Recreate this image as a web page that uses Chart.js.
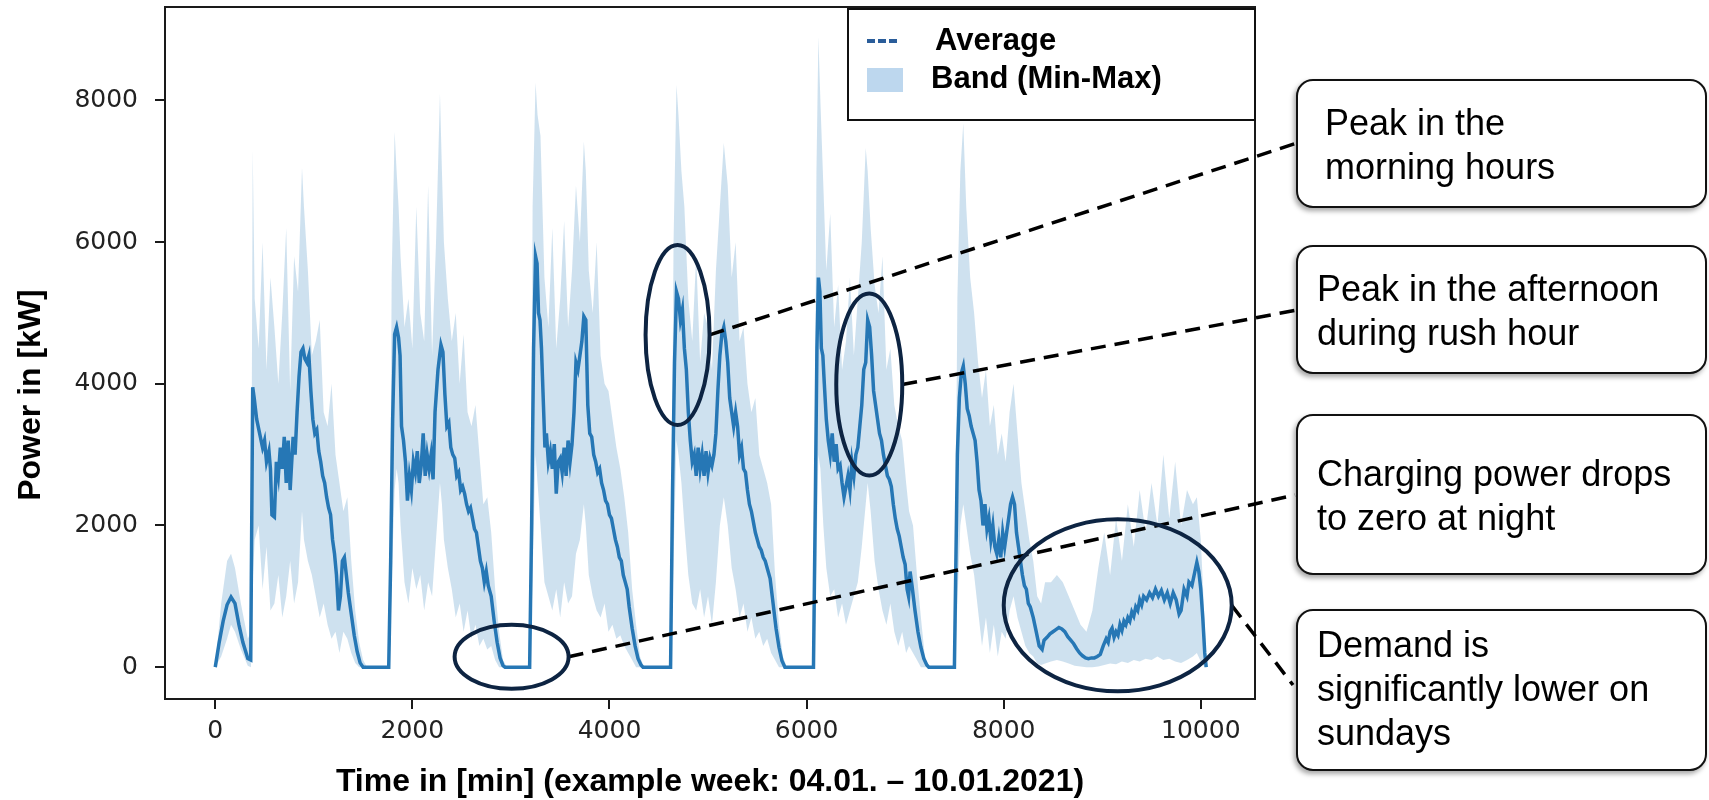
<!DOCTYPE html>
<html>
<head>
<meta charset="utf-8">
<title>Charging power, example week</title>
<script src="https://cdn.jsdelivr.net/npm/chart.js@4.4.1/dist/chart.umd.min.js"></script>
<style>
  html, body { margin: 0; padding: 0; background: #fff; overflow: hidden; }
  #wrap { position: relative; width: 1709px; height: 800px; }
  #chart { position: absolute; left: 0; top: 0; }
  .note {
    position: absolute;
    left: 1296px;
    width: 411px;
    box-sizing: border-box;
    border: 2px solid #111;
    border-radius: 17px;
    background: #fff;
    box-shadow: -2px 3px 5px rgba(0, 0, 0, 0.35);
    font-family: 'Liberation Sans', Arial, sans-serif;
    font-size: 36px;
    line-height: 44px;
    color: #000;
    white-space: nowrap;
  }
</style>
</head>
<body>
<div id="wrap">
  <canvas id="chart"></canvas>
  <div class="note" style="top:79px;height:129px;padding:20px 0 0 27px;">Peak in the<br>morning hours</div>
  <div class="note" style="top:245px;height:129px;padding:20px 0 0 19px;">Peak in the afternoon<br>during rush hour</div>
  <div class="note" style="top:414px;height:161px;padding:36px 0 0 19px;">Charging power drops<br>to zero at night</div>
  <div class="note" style="top:609px;height:162px;padding:12px 0 0 19px;">Demand is<br>significantly lower on<br>sundays</div>
</div>
<script>
// values (time in minutes, power in kW)
const avgTime = [
  0, 40, 80, 120, 160, 200, 240, 280, 330, 360, 380, 395, 420, 450, 480, 500, 520, 545, 560, 575, 600,
  620, 640, 660, 680, 700, 720, 740, 760, 790, 810, 830, 850, 870, 890, 910, 930, 950, 970, 990,
  1010, 1030, 1050, 1070, 1090, 1110, 1130, 1150, 1170, 1190, 1210, 1230, 1250, 1270, 1290, 1310, 1330, 1350, 1380, 1410,
  1440, 1470, 1500,
  1760, 1780, 1800, 1820, 1840, 1860, 1875, 1890, 1910, 1930, 1950, 1970, 1990, 2010, 2030, 2050, 2070, 2090, 2110, 2130,
  2150, 2170, 2190, 2210, 2230, 2260, 2290, 2310, 2330, 2350, 2370, 2390, 2410, 2430, 2450, 2470, 2490, 2510, 2530, 2550,
  2570, 2590, 2610, 2630, 2650, 2670, 2690, 2710, 2730, 2750, 2770, 2800, 2830, 2860, 2890, 2920, 2940,
  3190, 3210, 3230, 3250, 3265, 3280, 3295, 3310, 3330, 3345, 3360, 3380, 3400, 3420, 3440, 3460, 3480, 3500, 3520, 3540,
  3560, 3580, 3600, 3620, 3640, 3660, 3680, 3700, 3720, 3740, 3760, 3780, 3800, 3820, 3840, 3860, 3880, 3900, 3920, 3940,
  3960, 3980, 4000, 4020, 4040, 4060, 4080, 4100, 4120, 4140, 4160, 4180, 4200, 4230, 4260, 4290, 4320, 4340,
  4620, 4640, 4660, 4680, 4700, 4720, 4740, 4760, 4780, 4800, 4820, 4840, 4860, 4880, 4900, 4920, 4940, 4960, 4980, 5000,
  5020, 5040, 5060, 5080, 5100, 5120, 5140, 5160, 5180, 5200, 5220, 5240, 5260, 5280, 5300, 5320, 5340, 5360, 5380, 5400,
  5420, 5440, 5460, 5480, 5500, 5520, 5540, 5560, 5580, 5600, 5630, 5660, 5690, 5720, 5750, 5780,
  6070, 6090, 6105, 6120, 6135, 6150, 6165, 6180, 6200, 6220, 6240, 6260, 6280, 6300, 6320, 6340, 6360, 6380, 6400, 6420,
  6440, 6460, 6480, 6500, 6520, 6540, 6560, 6580, 6600, 6620, 6640, 6660, 6680, 6700, 6720, 6740, 6760, 6780, 6800, 6820,
  6840, 6860, 6880, 6900, 6920, 6940, 6960, 6980, 7000, 7020, 7035, 7050, 7070, 7100, 7130, 7160, 7190, 7220, 7240,
  7500, 7515, 7530, 7550, 7570, 7590, 7610, 7630, 7650, 7670, 7690, 7710, 7730, 7750, 7770, 7790, 7810, 7830, 7850, 7870,
  7890, 7910, 7930, 7950, 7970, 7990, 8010, 8030, 8050, 8070, 8090, 8110, 8130, 8150, 8170, 8190, 8210, 8230, 8250, 8270,
  8300, 8330, 8360, 8390, 8410, 8440, 8470, 8500, 8530, 8560, 8590, 8620, 8650, 8680, 8710, 8740, 8770, 8800, 8830, 8860,
  8890, 8920, 8950, 8980, 9010, 9040, 9060, 9080, 9100, 9120, 9140, 9160, 9180, 9200, 9220, 9240, 9260, 9280, 9300, 9320,
  9340, 9360, 9380, 9400, 9420, 9450, 9480, 9510, 9540, 9570, 9600, 9630, 9660, 9690, 9720, 9750, 9780, 9800, 9830, 9860,
  9880, 9910, 9940, 9960, 9980, 10000, 10020, 10040, 10055
];
const avgPower = [
  0, 350, 650, 880, 990, 900, 600, 350, 120, 100, 3950, 3800, 3500, 3300, 3100, 3200, 2900, 3050, 2800, 2150, 2120,
  2900, 2700, 3100, 2800, 3250, 2600, 3200, 2500, 3250, 3000, 3600, 4100, 4450, 4500, 4350, 4300, 4400, 3900, 3500,
  3300, 3350, 3050, 2900, 2700, 2600, 2400, 2250, 2150, 1800, 1600, 1300, 800, 1000, 1500, 1550, 1300, 1050, 750, 450,
  220, 60, 0,
  0, 1500, 3500, 4700, 4800, 4650, 4400, 3400, 3200, 2900, 2350, 2700, 2500, 2900, 2750, 3050, 2600, 2850, 3300, 2700,
  3000, 2800, 3000, 2650, 3600, 4200, 4550, 4450, 3850, 3400, 3450, 3100, 3000, 2950, 2700, 2750, 2500, 2550, 2450, 2300,
  2200, 2250, 2100, 1950, 1900, 1700, 1500, 1400, 1200, 1350, 1150, 1000, 650, 350, 130, 20, 0,
  0, 2000, 4500, 5800, 5700, 5000, 4900, 4500, 3700, 3100, 3300, 2900, 3050, 2800, 3150, 2450, 2900, 2950, 2750, 3100,
  2700, 3200, 2900, 3150, 3600, 4300, 4200, 4400, 4600, 4950, 4900, 3700, 3300, 3250, 3000, 2900, 2750, 2800, 2600, 2500,
  2350, 2300, 2150, 2100, 1950, 1800, 1700, 1550, 1500, 1300, 1200, 1100, 850, 550, 300, 120, 30, 0,
  0, 2500, 4300, 5300, 5200, 4900, 5050, 4500, 4200, 3600, 3200, 2900, 3000, 2700, 3100, 2800, 3000, 2700, 3050, 2750,
  2950, 2850, 3000, 3300, 3900, 4400, 4700, 4800, 4600, 4300, 3800, 3600, 3400, 3600, 3400, 3000, 3100, 2800, 2750, 2500,
  2300, 2200, 2050, 1900, 1800, 1700, 1650, 1550, 1500, 1400, 1250, 900, 550, 280, 90, 0,
  0, 2500, 4500, 5500, 5300, 4500, 4400, 4000, 3500, 3200, 3000, 3300, 2900, 3150, 2800, 2850, 2600, 2400, 2550, 2700,
  2500, 2900, 2700, 3000, 3100, 3400, 3700, 4200, 4300, 4900, 4800, 4400, 3900, 3700, 3500, 3300, 3200, 3000, 2850, 2700,
  2650, 2550, 2300, 2100, 1950, 1850, 1700, 1550, 1450, 1100, 1000, 1350, 1150, 800, 500, 280, 120, 30, 0,
  0, 1500, 3000, 3800, 4150, 4250, 4000, 3650, 3550, 3400, 3300, 3200, 2900, 2500, 2350, 2000, 2300, 1950, 2100, 1800,
  2000, 1700, 1600, 1800, 1550, 1900, 1700, 1900, 2100, 2300, 2400, 2300, 1900, 1700, 1500, 1300, 1150, 1100, 900, 850,
  700, 500, 300, 250, 380, 420, 470, 500, 530, 560, 540, 500, 430, 380, 330, 260, 200, 160, 130, 120,
  130, 130, 150, 180, 300, 400, 350, 500, 550, 420, 500, 450, 600, 520, 650, 600, 700, 650, 780, 720,
  850, 800, 950, 880, 1000, 950, 1050, 980, 1100, 1000, 1080, 950, 1050, 900, 1050, 950, 750, 800, 1100, 1000,
  1200, 1150, 1350, 1480, 1350, 1100, 700, 200, 0
];

const bandTime = [
  0, 60, 120, 160, 200, 260, 330, 362, 380, 400, 440, 480, 520, 560, 600, 640, 680, 720, 760, 800,
  840, 880, 900, 940, 980, 1020, 1060, 1100, 1140, 1180, 1220, 1260, 1300, 1340, 1380, 1420, 1460, 1500, 1540,
  1760, 1775, 1790, 1820, 1840, 1860, 1880, 1920, 1960, 2000, 2040, 2080, 2120, 2160, 2200, 2240, 2280, 2300,
  2320, 2360, 2400, 2440, 2480, 2520, 2560, 2600, 2640, 2680, 2720, 2760, 2800, 2840, 2880, 2920, 2960,
  3190, 3205, 3220, 3250, 3270, 3300, 3340, 3380, 3420, 3460, 3500, 3540, 3580, 3620, 3660, 3700, 3740,
  3760, 3790, 3830, 3870, 3910, 3950, 3990, 4030, 4070, 4110, 4150, 4190, 4230, 4270, 4310, 4350,
  4620, 4635, 4650, 4680, 4700, 4730, 4760, 4800, 4840, 4880, 4920, 4960, 5000, 5040, 5080, 5120, 5160,
  5200, 5240, 5280, 5320, 5360, 5400, 5440, 5480, 5520, 5560, 5600, 5640, 5680, 5720, 5760, 5800,
  6070, 6085, 6100, 6120, 6140, 6170, 6200, 6240, 6280, 6320, 6360, 6400, 6440, 6480, 6520, 6560, 6600,
  6620, 6650, 6690, 6730, 6770, 6810, 6850, 6890, 6930, 6970, 7010, 7040, 7080, 7120, 7160, 7200, 7240,
  7500, 7515, 7530, 7560, 7590, 7620, 7660, 7700, 7740, 7780, 7820, 7860, 7900, 7940, 7980, 8020, 8060, 8100,
  8140, 8180, 8220, 8260, 8300, 8340, 8380, 8420, 8480, 8540, 8600, 8660, 8720, 8780, 8840, 8900, 8960,
  9020, 9080, 9140, 9200, 9260, 9320, 9380, 9440, 9500, 9560, 9620, 9680, 9740, 9800, 9860, 9920, 9960,
  10000, 10040, 10060
];
const bandMax = [
  0, 900, 1500, 1600, 1400, 900, 400, 500, 7300, 5200, 4500, 6000, 4200, 5500, 4800, 4000, 5000, 6200, 3900, 5800,
  5300, 7050, 6500, 5600, 4400, 4600, 4900, 3600, 3400, 4000, 3000, 2600, 2200, 2400, 1500, 800, 350, 100, 0,
  0, 2000, 5500, 7560, 7000, 6500, 5800, 4800, 5200, 4500, 6500, 5000, 4600, 6800, 4400, 6000, 8100, 7000,
  6000, 5200, 4600, 5000, 4000, 4700, 3600, 3400, 3700, 3000, 2300, 2400, 1900, 1100, 500, 100, 0,
  0, 2500, 6500, 8250, 7800, 7500, 5500, 4800, 6200, 4500, 5200, 6300, 4800, 5600, 6800, 6000, 7420,
  7000, 5600, 5000, 6000, 4400, 4000, 3900, 3500, 3100, 2800, 2400, 1900, 1100, 600, 150, 0,
  0, 3000, 6000, 8220, 7800, 7000, 6500, 5200, 4600, 5800, 4300, 5000, 4800, 4200, 5600, 6500, 7400,
  6800, 5500, 6000, 4600, 4800, 4000, 3600, 3800, 3000, 2800, 2600, 2300, 1300, 600, 150, 0,
  0, 3500, 7000, 8900, 8000, 6800, 5600, 6400, 4800, 5400, 4200, 4600, 5500, 4400, 5200, 6000, 7330,
  7000, 6200, 5400, 5000, 5800, 4200, 4500, 3700, 3400, 3200, 2600, 2200, 2000, 1300, 700, 150, 0,
  0, 2500, 5200, 7000, 7680, 6500, 5500, 5000, 4300, 3800, 4200, 3400, 3700, 3000, 3300, 2900, 3600, 4000,
  3300, 2600, 2200, 1800, 1500, 1000, 900, 1200, 1200, 1300, 1200, 1000, 800, 600, 500, 800, 1400,
  1900, 1300, 2100, 1500, 2300, 1700, 2500, 1900, 2600, 2000, 3000, 2100, 2900, 2000, 2500, 2300, 2400,
  1800, 600, 0
];
const bandMin = [
  0, 150, 400, 600, 500, 250, 20, 0, 1200, 1800, 2000, 1100, 1700, 800, 900, 1300, 700, 1000, 1500, 900,
  1200, 2200, 1800, 1500, 1300, 1000, 700, 900, 600, 400, 500, 200, 500, 400, 200, 60, 0, 0, 0,
  0, 300, 1200, 2500, 2800, 2600, 2000, 1200, 900, 1400, 1100, 1300, 800, 1200, 1000, 1800, 2600, 2300,
  1800, 1400, 1100, 700, 900, 500, 800, 400, 600, 300, 400, 250, 300, 100, 0, 0, 0,
  0, 400, 1300, 3000, 2600, 2000, 1200, 1000, 800, 1100, 700, 1200, 900, 1000, 1600, 1800, 2300,
  2000, 1300, 1000, 800, 700, 900, 500, 600, 400, 450, 300, 200, 100, 0, 0, 0,
  0, 600, 1500, 3200, 3000, 2600, 2000, 1300, 900, 800, 1100, 700, 1000, 600, 1200, 2000, 2400,
  2000, 1400, 1100, 700, 900, 500, 700, 400, 500, 300, 400, 200, 100, 0, 0, 0,
  0, 500, 1500, 3000, 2800, 2000, 1400, 1000, 1100, 700, 900, 600, 800, 1000, 1200, 1700, 2300,
  2600, 2200, 1500, 1100, 800, 600, 900, 500, 300, 500, 200, 300, 200, 100, 0, 0, 0,
  0, 300, 900, 2000, 2300, 2000, 1600, 1300, 800, 300, 700, 200, 600, 150, 500, 400, 800, 1000,
  700, 500, 300, 200, 150, 50, 30, 50, 80, 100, 80, 50, 20, 10, 0, 0, 10,
  30, 50, 40, 80, 60, 100, 80, 120, 100, 150, 100, 120, 80, 60, 100, 150, 200,
  80, 0, 0
];

const xTicks = [0, 2000, 4000, 6000, 8000, 10000];
const yTicks = [0, 2000, 4000, 6000, 8000];

if (avgTime.length !== avgPower.length) console.warn('avg arrays differ', avgTime.length, avgPower.length);
if (bandTime.length !== bandMax.length || bandTime.length !== bandMin.length) {
  console.warn('band arrays differ', bandTime.length, bandMax.length, bandMin.length);
}

// callouts: ellipse centre in data units, radii in px, connector end on the note box
const callouts = [
  { t: 4691, v: 4690, rx: 32, ry: 90, to: [1297, 143] },
  { t: 6636, v: 3990, rx: 33, ry: 91, to: [1297, 310] },
  { t: 3007, v: 146, rx: 57, ry: 32, to: [1295, 495] },
  { t: 9157, v: 872, rx: 114, ry: 86, to: [1293, 685] }
];

const toPoints = (xs, ys) => xs.map((x, i) => ({ x: x, y: ys[i] }));

const overlay = {
  id: 'overlay',
  afterDraw(chart) {
    const { ctx, chartArea: a, scales } = chart;
    const sx = scales.x, sy = scales.y;
    ctx.save();

    // frame (all four spines)
    ctx.strokeStyle = '#1a1a1a';
    ctx.lineWidth = 2;
    ctx.strokeRect(a.left, a.top, a.right - a.left, a.bottom - a.top);

    // y axis title
    ctx.save();
    ctx.translate(39.5, 395);
    ctx.rotate(-Math.PI / 2);
    ctx.font = 'bold 32px "Liberation Sans", Arial, sans-serif';
    ctx.fillStyle = '#000';
    ctx.textAlign = 'center';
    ctx.textBaseline = 'alphabetic';
    ctx.fillText('Power in [kW]', 0, 0);
    ctx.restore();

    // legend box
    const ds = chart.data.datasets;
    ctx.fillStyle = '#fff';
    ctx.fillRect(848, 9, 407, 111);
    ctx.strokeStyle = '#111';
    ctx.lineWidth = 2;
    ctx.strokeRect(848, 9, 407, 111);
    ctx.save();
    ctx.setLineDash([8, 3]);
    ctx.lineWidth = 4;
    ctx.strokeStyle = '#2a5d9a';
    ctx.beginPath();
    ctx.moveTo(867, 41);
    ctx.lineTo(899, 41);
    ctx.stroke();
    ctx.restore();
    ctx.fillStyle = '#bdd7ee';
    ctx.fillRect(867, 68, 36, 24);
    ctx.fillStyle = '#000';
    ctx.font = 'bold 31px "Liberation Sans", Arial, sans-serif';
    ctx.textAlign = 'left';
    ctx.textBaseline = 'alphabetic';
    ctx.fillText(ds[0].label, 935, 50);
    ctx.fillText(ds[1].label, 931, 88);

    // callout connectors and ellipses
    callouts.forEach(c => {
      const cx = sx.getPixelForValue(c.t);
      const cy = sy.getPixelForValue(c.v);
      ctx.save();
      ctx.setLineDash([15, 9]);
      ctx.lineWidth = 3.5;
      ctx.strokeStyle = '#000';
      ctx.beginPath();
      ctx.moveTo(cx + c.rx, cy);
      ctx.lineTo(c.to[0], c.to[1]);
      ctx.stroke();
      ctx.restore();
      ctx.lineWidth = 4;
      ctx.strokeStyle = '#0d2442';
      ctx.beginPath();
      ctx.ellipse(cx, cy, c.rx, c.ry, 0, 0, Math.PI * 2);
      ctx.stroke();
    });

    ctx.restore();
  }
};

const tickFont = { family: 'DejaVu Sans', size: 25 };

new Chart(document.getElementById('chart'), {
  type: 'line',
  data: {
    datasets: [
      {
        label: 'Average',
        data: toPoints(avgTime, avgPower),
        borderColor: '#2677b5',
        borderWidth: 3.5,
        pointRadius: 0,
        fill: false,
        tension: 0,
        order: 0
      },
      {
        label: 'Band (Min-Max)',
        data: toPoints(bandTime, bandMax),
        borderWidth: 0,
        borderColor: 'rgba(0,0,0,0)',
        backgroundColor: 'rgba(31, 119, 180, 0.22)',
        pointRadius: 0,
        fill: '+1',
        tension: 0,
        order: 1
      },
      {
        label: 'min',
        data: toPoints(bandTime, bandMin),
        borderWidth: 0,
        borderColor: 'rgba(0,0,0,0)',
        pointRadius: 0,
        fill: false,
        tension: 0,
        order: 2
      }
    ]
  },
  options: {
    responsive: true,
    maintainAspectRatio: false,
    animation: false,
    events: [],
    layout: { padding: { top: 7, right: 454, bottom: 0, left: 0 } },
    plugins: {
      legend: { display: false },
      tooltip: { enabled: false }
    },
    scales: {
      x: {
        type: 'linear',
        min: -510,
        max: 10550,
        afterBuildTicks: scale => { scale.ticks = xTicks.map(v => ({ value: v })); },
        afterFit: scale => {
          scale.height = 101;
          scale.paddingLeft = 0;
          scale.paddingRight = 0;
        },
        grid: { drawOnChartArea: false, drawTicks: true, tickLength: 10, color: '#1a1a1a', lineWidth: 2 },
        border: { display: false },
        ticks: {
          font: tickFont,
          color: '#222',
          padding: 7,
          maxRotation: 0,
          autoSkip: false,
          callback: v => String(v)
        },
        title: {
          display: true,
          text: 'Time in [min] (example week: 04.01. \u2013 10.01.2021)',
          color: '#000',
          font: { family: 'Liberation Sans', size: 32, weight: 'bold', lineHeight: 1 },
          padding: { top: 0, bottom: 2 }
        }
      },
      y: {
        type: 'linear',
        min: -450,
        max: 9320,
        afterBuildTicks: scale => { scale.ticks = yTicks.map(v => ({ value: v })); },
        afterFit: scale => {
          scale.width = 165;
          scale.paddingTop = 0;
          scale.paddingBottom = 0;
        },
        grid: { drawOnChartArea: false, drawTicks: true, tickLength: 10, color: '#1a1a1a', lineWidth: 2 },
        border: { display: false },
        ticks: {
          font: tickFont,
          color: '#222',
          padding: 17,
          autoSkip: false,
          callback: v => String(v)
        }
      }
    }
  },
  plugins: [overlay]
});
</script>
</body>
</html>
